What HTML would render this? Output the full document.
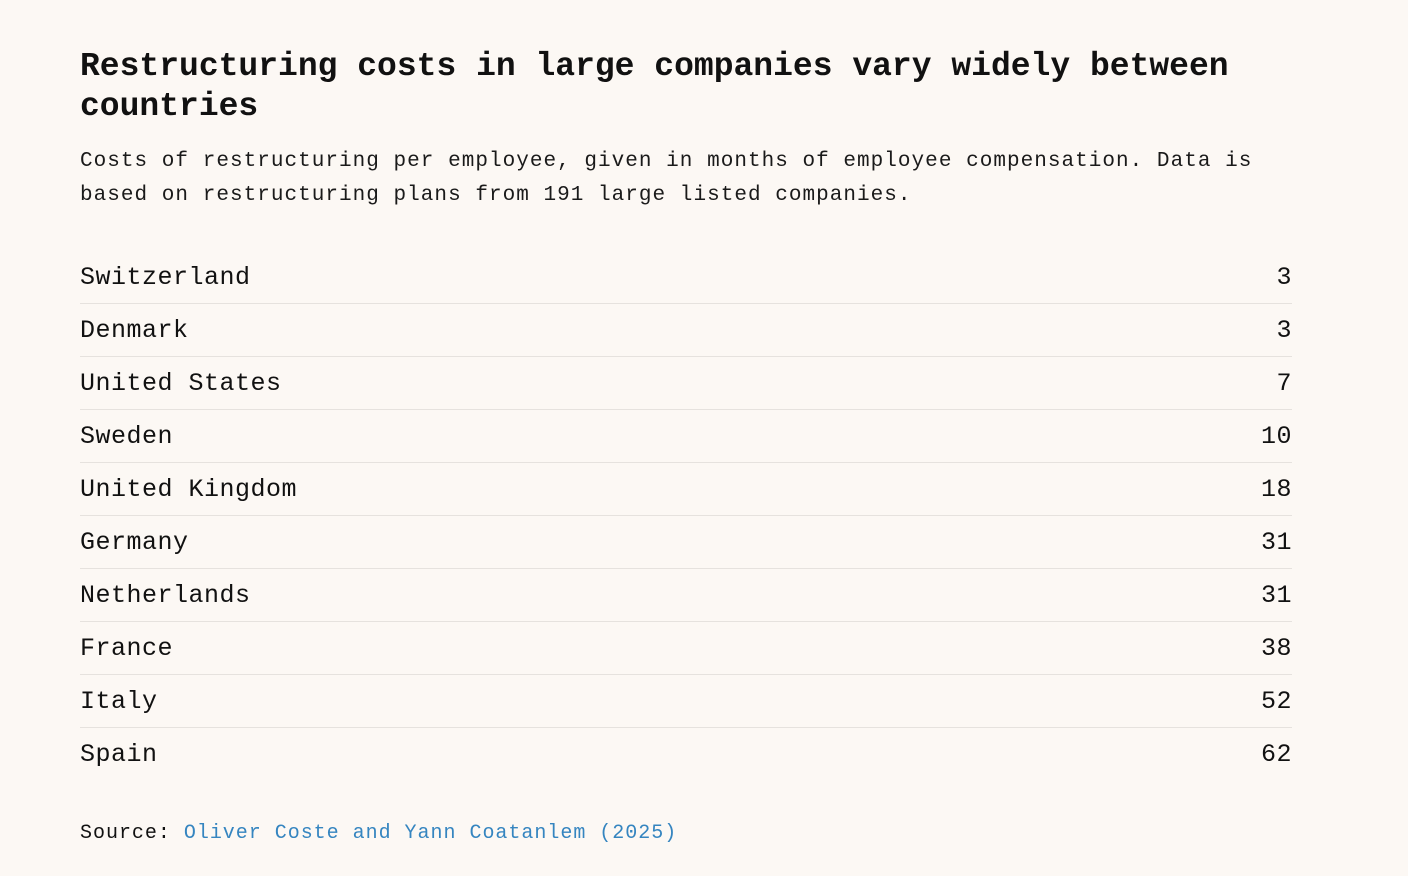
<!DOCTYPE html>
<html><head><meta charset="utf-8"><style>
html,body{margin:0;padding:0;background:#fcf8f4;}
body{width:1408px;height:876px;position:relative;font-family:"Liberation Mono",monospace;color:#111;}
h1{position:absolute;left:80px;top:47px;margin:0;width:1250px;font-size:33px;line-height:40px;letter-spacing:0px;font-weight:bold;}
.sub{position:absolute;left:80px;top:145px;margin:0;width:1200px;font-size:21px;line-height:34px;letter-spacing:1.03px;color:#1a1a1a;}
.tbl{position:absolute;left:80px;top:251px;width:1212px;}
.row{height:52px;border-bottom:1px solid #e6e2de;display:flex;justify-content:space-between;align-items:center;font-size:25px;letter-spacing:0.5px;box-sizing:content-box;}
.row:last-child{border-bottom:none;}
.src{position:absolute;left:80px;top:819px;font-size:20px;letter-spacing:0.98px;line-height:30px;}
.src span{color:#3585c0;}
</style></head><body>
<h1>Restructuring costs in large companies vary widely between countries</h1>
<p class="sub">Costs of restructuring per employee, given in months of employee compensation. Data is based on restructuring plans from 191 large listed companies.</p>
<div class="tbl">
<div class="row"><span>Switzerland</span><span>3</span></div>
<div class="row"><span>Denmark</span><span>3</span></div>
<div class="row"><span>United States</span><span>7</span></div>
<div class="row"><span>Sweden</span><span>10</span></div>
<div class="row"><span>United Kingdom</span><span>18</span></div>
<div class="row"><span>Germany</span><span>31</span></div>
<div class="row"><span>Netherlands</span><span>31</span></div>
<div class="row"><span>France</span><span>38</span></div>
<div class="row"><span>Italy</span><span>52</span></div>
<div class="row"><span>Spain</span><span>62</span></div>
</div>
<div class="src">Source: <span>Oliver Coste and Yann Coatanlem (2025)</span></div>
</body></html>
